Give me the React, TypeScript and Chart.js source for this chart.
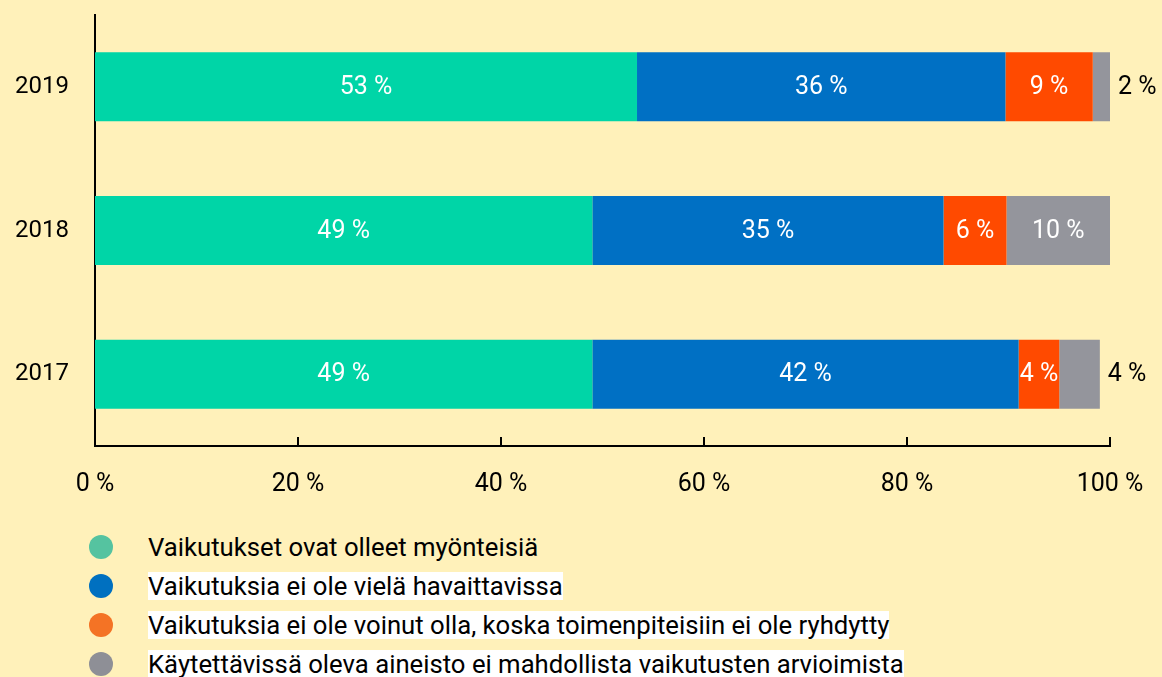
import React, { useEffect, useRef } from "react";
import { Chart, registerables } from "chart.js";

Chart.register(...registerables);

const categories = ["2019", "2018", "2017"];
const seriesNames = [
  "Vaikutukset ovat olleet myönteisiä",
  "Vaikutuksia ei ole vielä havaittavissa",
  "Vaikutuksia ei ole voinut olla, koska toimenpiteisiin ei ole ryhdytty",
  "Käytettävissä oleva aineisto ei mahdollista vaikutusten arvioimista",
];
const positive = [53.4, 49.0, 49.0];
const notYetSeen = [36.3, 34.6, 42.0];
const notStarted = [8.6, 6.2, 4.0];
const noData = [1.7, 10.2, 4.0];
const xTickValues = [0, 20, 40, 60, 80, 100];

const barColors = ["#00D5A7", "#0070C4", "#FF4A00", "#94959C"];
const legendColors = ["#55C3A0", "#0070C0", "#F47325", "#8E8F96"];
const legendHighlight = [false, true, true, true];
const BG = "#FFF1BA";
const FONT = "Roboto, 'Liberation Sans', sans-serif";

const innerTicks = {
  id: "innerTicks",
  afterDraw(chart: any) {
    const { ctx, chartArea } = chart;
    const xs = chart.scales.x;
    ctx.save();
    ctx.strokeStyle = "#000";
    ctx.lineWidth = 2;
    xTickValues.forEach((v) => {
      const px = xs.getPixelForValue(v);
      ctx.beginPath();
      ctx.moveTo(px, chartArea.bottom);
      ctx.lineTo(px, chartArea.bottom - 9);
      ctx.stroke();
    });
    ctx.restore();
  },
};

const barLabels = {
  id: "barLabels",
  afterDatasetsDraw(chart: any) {
    const { ctx } = chart;
    const n = chart.data.datasets.length;
    ctx.save();
    ctx.font = `25px ${FONT}`;
    ctx.textBaseline = "middle";
    chart.data.datasets.forEach((ds: any, i: number) => {
      const meta = chart.getDatasetMeta(i);
      meta.data.forEach((el: any, j: number) => {
        const v = ds.data[j];
        const text = Math.round(v) + " %";
        const outside = i === n - 1 && v < 5;
        if (outside) {
          ctx.fillStyle = "#000";
          ctx.textAlign = "left";
          ctx.fillText(text, Math.max(el.x, el.base) + 8, el.y + 1);
        } else {
          ctx.fillStyle = "#fff";
          ctx.textAlign = "center";
          ctx.fillText(text, (el.x + el.base) / 2, el.y + 1);
        }
      });
    });
    ctx.restore();
  },
};

export default function App() {
  const ref = useRef<HTMLCanvasElement>(null);

  useEffect(() => {
    document.body.style.margin = "0";
    const values = [positive, notYetSeen, notStarted, noData];
    const chart = new Chart(ref.current!, {
      type: "bar",
      data: {
        labels: categories,
        datasets: seriesNames.map((name, i) => ({
          label: name,
          data: values[i],
          backgroundColor: barColors[i],
          borderWidth: 0,
          barPercentage: 0.48,
          categoryPercentage: 1,
        })),
      },
      options: {
        indexAxis: "y",
        animation: false,
        responsive: false,
        maintainAspectRatio: false,
        layout: { padding: { top: 15, right: 52, left: 0, bottom: 0 } },
        plugins: { legend: { display: false }, tooltip: { enabled: false } },
        scales: {
          x: {
            stacked: true,
            min: 0,
            max: 100,
            grid: { display: false, drawTicks: false },
            border: { display: true, color: "#000", width: 2 },
            ticks: {
              stepSize: 20,
              padding: 24,
              color: "#000",
              font: { family: FONT, size: 25 },
              callback: (v: any) => v + " %",
            },
            afterFit: (s: any) => {
              s.height = 64;
              s.paddingLeft = 0;
              s.paddingRight = 0;
            },
          },
          y: {
            stacked: true,
            grid: { display: false, drawTicks: false },
            border: { display: true, color: "#000", width: 2 },
            ticks: {
              padding: 26,
              color: "#000",
              font: { family: FONT, size: 24 },
            },
            afterFit: (s: any) => {
              s.width = 95;
              s.paddingTop = 0;
              s.paddingBottom = 0;
            },
          },
        },
      },
      plugins: [innerTicks, barLabels],
    });
    return () => chart.destroy();
  }, []);

  return (
    <div
      style={{
        position: "fixed",
        left: 0,
        top: 0,
        width: 1162,
        height: 677,
        background: BG,
        overflow: "hidden",
        fontFamily: FONT,
      }}
    >
      <canvas ref={ref} width={1162} height={510} style={{ display: "block" }} />
      <div style={{ position: "absolute", left: 89, top: 527 }}>
        {seriesNames.map((name, i) => (
          <div
            key={name}
            style={{ display: "flex", alignItems: "center", height: 39 }}
          >
            <span
              style={{
                width: 24,
                height: 24,
                borderRadius: "50%",
                background: legendColors[i],
                display: "inline-block",
                flex: "0 0 auto",
              }}
            />
            <span
              style={{
                marginLeft: 35,
                fontSize: 25.7,
                color: "#000",
                lineHeight: "28px",
                background: legendHighlight[i] ? "#fff" : "transparent",
              }}
            >
              {name}
            </span>
          </div>
        ))}
      </div>
    </div>
  );
}
